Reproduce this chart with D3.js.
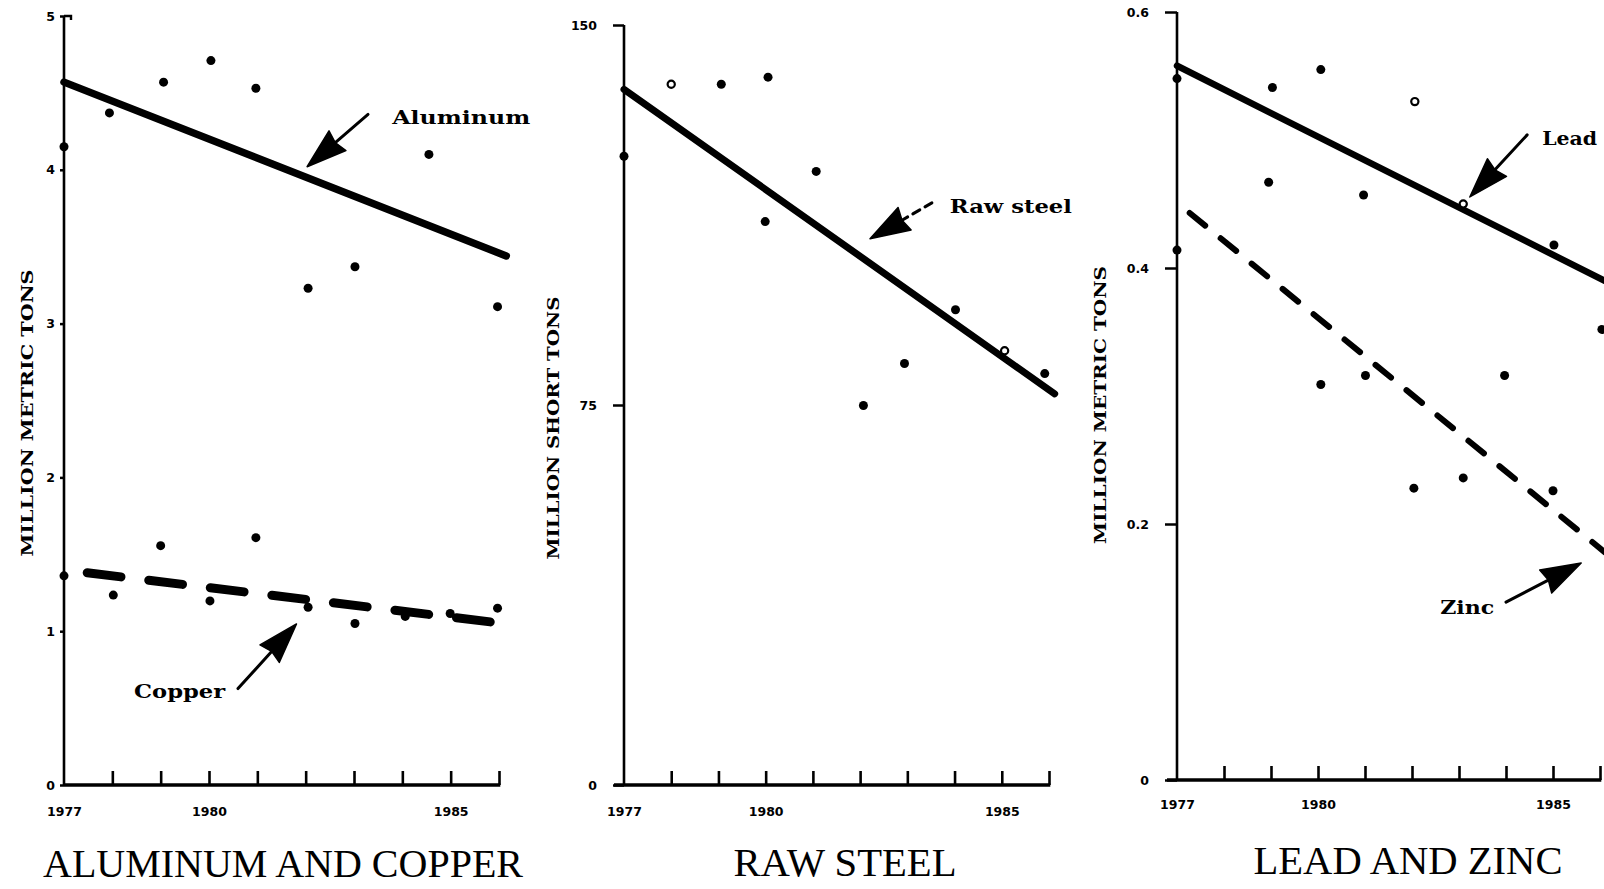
<!DOCTYPE html>
<html><head><meta charset="utf-8">
<script src="https://cdn.jsdelivr.net/npm/d3@7"></script>
<style>
html,body{margin:0;padding:0;background:#fff;overflow:hidden}
svg{display:block}
</style></head>
<body><svg id="chart" width="1604" height="889"></svg>
<script>
// Years shown along every horizontal axis
const years = [1977, 1978, 1979, 1980, 1981, 1982, 1983, 1984, 1985, 1986];
const yearLabels = [1977, 1980, 1985];

// Aluminum and copper, million metric tons: observations and fitted trends
const aluminumPoints = [[1977, 4.15], [1977.94, 4.37], [1979.06, 4.57], [1980.04, 4.71], [1980.97, 4.53],
                        [1982.05, 3.23], [1983.02, 3.37], [1984.55, 4.10], [1985.97, 3.11]];
const aluminumTrend = [[1977, 4.57], [1986.15, 3.44]];
const copperPoints = [[1977, 1.36], [1978.02, 1.235], [1979, 1.556], [1980.02, 1.197], [1980.97, 1.608],
                      [1982.05, 1.156], [1983.02, 1.05], [1984.06, 1.096], [1984.99, 1.115], [1985.97, 1.15]];
const copperTrend = [[1977.48, 1.38], [1986.09, 1.05]];
const metricTicksAC = [0, 1, 2, 3, 4, 5];

// Raw steel, million short tons
const steelPoints = [[1977, 124.1], [1979.06, 138.3], [1980.05, 139.7], [1981.07, 121.1], [1979.99, 111.2],
                     [1984.02, 93.8], [1982.94, 83.2], [1982.07, 74.9], [1985.91, 81.2]];
const steelOpenPoints = [[1978.0, 138.3], [1985.06, 85.7]];
const steelTrend = [[1977, 137.3], [1986.12, 77.2]];
const shortTicks = [0, 75, 150];

// Lead and zinc, million metric tons
const leadPoints = [[1977, 0.548], [1977, 0.414], [1979.03, 0.541], [1980.06, 0.555], [1978.95, 0.467],
                    [1980.97, 0.457], [1985.02, 0.418], [1986.04, 0.352]];
const leadOpenPoints = [[1982.06, 0.530], [1983.09, 0.450]];
const leadTrend = [[1977, 0.558], [1986.1, 0.39]];
const zincPoints = [[1980.06, 0.309], [1981.01, 0.316], [1983.97, 0.316], [1982.04, 0.228],
                    [1983.09, 0.236], [1985.0, 0.226]];
const zincTrend = [[1977.27, 0.443], [1986.1, 0.178]];
const metricTicksLZ = [0, 0.2, 0.4, 0.6];

const svg = d3.select('#chart');
const INK = '#000';

function drawPanel(cfg) {
  const g = svg.append('g');
  const x = d3.scaleLinear().domain([1977, 1986]).range([cfg.x0, cfg.x1]);
  const y = d3.scaleLinear().domain(cfg.yDomain).range([cfg.yBottom, cfg.yTop]);

  // vertical axis: ticks and labels
  const ya = g.append('g').attr('transform', `translate(${cfg.x0},0)`)
    .call(d3.axisLeft(y).tickValues(cfg.yTicks).tickSize(cfg.yTickSize)
      .tickPadding(cfg.yPad).tickFormat(cfg.yFormat));
  ya.select('.domain').remove();
  ya.selectAll('line').attr('stroke', INK).attr('stroke-width', 2.5);
  ya.selectAll('text').attr('font-family', 'DejaVu Sans').attr('font-weight', 'bold')
    .attr('font-size', 12.5).attr('fill', INK);
  g.append('line').attr('x1', cfg.x0).attr('x2', cfg.x0)
    .attr('y1', y(cfg.yDomain[0]) + 1).attr('y2', y(cfg.yDomain[1]))
    .attr('stroke', INK).attr('stroke-width', 2.6);
  if (cfg.topHook) {
    g.append('path').attr('d', `M${cfg.x0},${y(cfg.yDomain[1])}h7v4`)
      .attr('fill', 'none').attr('stroke', INK).attr('stroke-width', 2.4);
  }

  // horizontal axis: upward year ticks
  const xa = g.append('g').attr('transform', `translate(0,${cfg.yBottom})`)
    .call(d3.axisTop(x).tickValues(years.slice(1)).tickSize(14).tickSizeOuter(0).tickFormat(() => ''));
  xa.select('.domain').remove();
  xa.selectAll('line').attr('stroke', INK).attr('stroke-width', 2.6);
  g.append('line').attr('x1', cfg.x0 - cfg.xLead).attr('x2', x(1986) + 1.3)
    .attr('y1', cfg.yBottom).attr('y2', cfg.yBottom)
    .attr('stroke', INK).attr('stroke-width', 3.4);

  const xl = g.append('g').attr('transform', `translate(0,${cfg.yBottom})`)
    .call(d3.axisBottom(x).tickValues(yearLabels).tickSize(0).tickPadding(cfg.xPad).tickFormat(d3.format('d')));
  xl.select('.domain').remove();
  xl.selectAll('text').attr('font-family', 'DejaVu Sans').attr('font-weight', 'bold')
    .attr('font-size', 12.5).attr('fill', INK);

  // vertical axis title
  g.append('text').attr('transform', `translate(${cfg.titleX},${cfg.titleY}) rotate(-90)`)
    .attr('text-anchor', 'middle').attr('dominant-baseline', 'central')
    .attr('font-family', 'DejaVu Serif').attr('font-weight', 'bold').attr('font-size', 16)
    .attr('textLength', cfg.titleLen).attr('lengthAdjust', 'spacingAndGlyphs')
    .attr('fill', INK).text(cfg.yTitle);

  // panel caption
  g.append('text').attr('x', cfg.capX).attr('y', cfg.capY).attr('text-anchor', 'middle')
    .attr('font-family', 'Liberation Serif').attr('font-size', 40)
    .attr('textLength', cfg.capLen).attr('lengthAdjust', 'spacingAndGlyphs')
    .attr('fill', INK).text(cfg.caption);

  return {g, x, y};
}

function trend(p, data, width, dash) {
  const line = d3.line().x(d => p.x(d[0])).y(d => p.y(d[1]));
  p.g.append('path').attr('d', line(data)).attr('fill', 'none').attr('stroke', INK)
    .attr('stroke-width', width).attr('stroke-linecap', 'round')
    .attr('stroke-dasharray', dash || null);
}

function dots(p, data, open) {
  p.g.selectAll(null).data(data).enter().append('circle')
    .attr('cx', d => p.x(d[0])).attr('cy', d => p.y(d[1]))
    .attr('r', open ? 3.6 : 4.5)
    .attr('fill', open ? '#fff' : INK)
    .attr('stroke', INK).attr('stroke-width', open ? 2.2 : 0);
}

function pointer(p, tail, tip, shaftDash) {
  const tx = p.x(tail[0]), ty = p.y(tail[1]);
  const hx = p.x(tip[0]), hy = p.y(tip[1]);
  const dx = tx - hx, dy = ty - hy, len = Math.hypot(dx, dy);
  const ux = dx / len, uy = dy / len;
  const L = 40, W = 13;
  const bx = hx + ux * L, by = hy + uy * L;
  p.g.append('line').attr('x1', tx).attr('y1', ty).attr('x2', bx - ux * 4).attr('y2', by - uy * 4)
    .attr('stroke', INK).attr('stroke-width', 3).attr('stroke-linecap', 'round')
    .attr('stroke-dasharray', shaftDash || null);
  p.g.append('path')
    .attr('d', `M${hx},${hy}L${bx - uy * W},${by + ux * W}L${bx + ux * -3},${by + uy * -3}L${bx + uy * W},${by - ux * W}Z`)
    .attr('fill', INK).attr('stroke', INK).attr('stroke-width', 1.5).attr('stroke-linejoin', 'round');
}

function label(p, at, text, width) {
  p.g.append('text').attr('x', p.x(at[0])).attr('y', p.y(at[1]))
    .attr('font-family', 'DejaVu Serif').attr('font-weight', 'bold').attr('font-size', 19)
    .attr('textLength', width).attr('lengthAdjust', 'spacingAndGlyphs')
    .attr('fill', INK).text(text);
}

// ---- Aluminum and copper ----
const pAC = drawPanel({
  x0: 64, x1: 499, yTop: 16, yBottom: 785, yDomain: [0, 5], yTicks: metricTicksAC,
  yTickSize: 4, yPad: 5, yFormat: d3.format('d'), topHook: true, xLead: 0, xPad: 22,
  yTitle: 'MILLION METRIC TONS', titleX: 27, titleY: 413, titleLen: 287,
  caption: 'ALUMINUM AND COPPER', capX: 283, capY: 877, capLen: 480
});
trend(pAC, aluminumTrend, 7.5);
trend(pAC, copperTrend, 9, '34,28');
dots(pAC, aluminumPoints);
dots(pAC, copperPoints);
pointer(pAC, [1983.29, 4.36], [1982.03, 4.02]);
label(pAC, [1983.79, 4.30], 'Aluminum', 138);
pointer(pAC, [1980.6, 0.627], [1981.81, 1.047]);
label(pAC, [1978.45, 0.566], 'Copper', 91);

// ---- Raw steel ----
const pS = drawPanel({
  x0: 624, x1: 1049, yTop: 25, yBottom: 785, yDomain: [0, 150], yTicks: shortTicks,
  yTickSize: 11, yPad: 16, yFormat: d3.format('d'), topHook: false, xLead: 10, xPad: 22,
  yTitle: 'MILLION SHORT TONS', titleX: 553, titleY: 428, titleLen: 263,
  caption: 'RAW STEEL', capX: 845, capY: 876, capLen: 223
});
trend(pS, steelTrend, 7);
dots(pS, steelPoints);
dots(pS, steelOpenPoints, true);
pointer(pS, [1983.52, 114.9], [1982.21, 107.8], '8,6');
label(pS, [1983.9, 112.9], 'Raw steel', 122);

// ---- Lead and zinc ----
const pLZ = drawPanel({
  x0: 1177, x1: 1600, yTop: 12, yBottom: 780, yDomain: [0, 0.6], yTicks: metricTicksLZ,
  yTickSize: 12, yPad: 16, yFormat: d => d === 0 ? '0' : d3.format('.1f')(d), topHook: false, xLead: 10, xPad: 20,
  yTitle: 'MILLION METRIC TONS', titleX: 1100, titleY: 405, titleLen: 278,
  caption: 'LEAD AND ZINC', capX: 1408, capY: 874, capLen: 309
});
trend(pLZ, leadTrend, 6.5);
trend(pLZ, zincTrend, 6, '20,20');
dots(pLZ, leadPoints);
dots(pLZ, leadOpenPoints, true);
dots(pLZ, zincPoints);
pointer(pLZ, [1984.45, 0.504], [1983.23, 0.4555]);
label(pLZ, [1984.77, 0.496], 'Lead', 55);
pointer(pLZ, [1984.0, 0.139], [1985.6, 0.1695]);
label(pLZ, [1982.6, 0.13], 'Zinc', 54);
</script>
</body></html>
